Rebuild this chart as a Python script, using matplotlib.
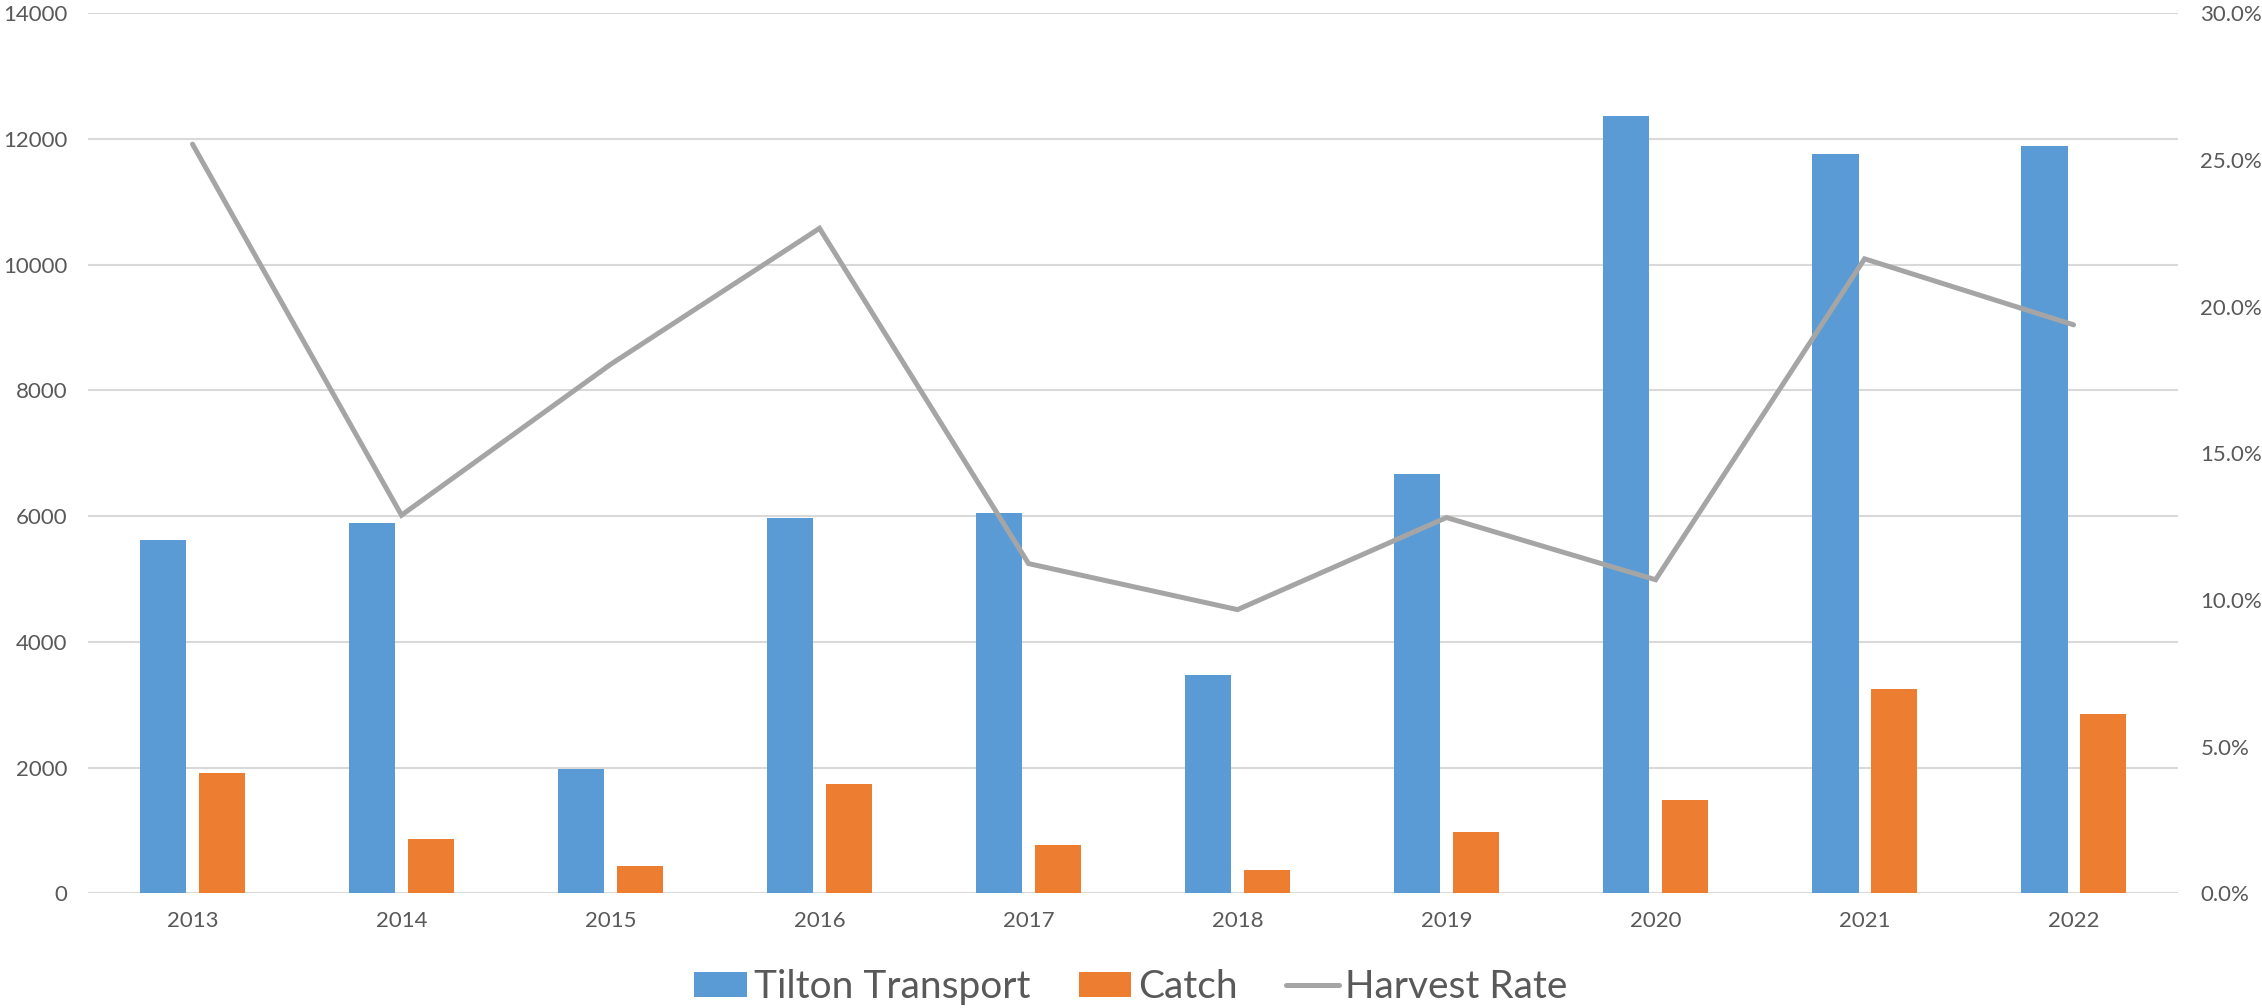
import numpy as np
import matplotlib
matplotlib.use("Agg")
import matplotlib.pyplot as plt
from matplotlib.ticker import FuncFormatter

plt.rcParams['font.family'] = ['Lato', 'DejaVu Sans']

years = ['2013', '2014', '2015', '2016', '2017', '2018', '2019', '2020', '2021', '2022']
tilton_transport = [5620, 5890, 1985, 5970, 6055, 3468, 6666, 12360, 11768, 11887]
catch = [1918, 870, 430, 1745, 765, 366, 970, 1478, 3245, 2857]
harvest_rate = [0.2554, 0.1289, 0.1803, 0.2267, 0.1124, 0.0967, 0.1281, 0.1069, 0.2163, 0.1938]

blue = '#5B9BD5'
orange = '#ED7D31'
gray = '#A5A5A5'
text_col = '#595959'
grid_col = '#D9D9D9'

fig = plt.figure(figsize=(22.62, 10.08), dpi=100)
ax = fig.add_axes([0.0389, 0.1138, 0.924, 0.873])
ax2 = ax.twinx()

x = np.arange(len(years))
w = 0.224
off = 0.141
b1 = ax.bar(x - off, tilton_transport, w, color=blue, label='Tilton Transport', zorder=2)
b2 = ax.bar(x + off, catch, w, color=orange, label='Catch', zorder=2)
ln, = ax2.plot(x, harvest_rate, color=gray, lw=3.6, solid_capstyle='round',
               solid_joinstyle='miter', label='Harvest Rate', zorder=3)

ax.set_xlim(-0.5, len(years) - 0.5)
ax.set_ylim(0, 14000)
ax.set_yticks(np.arange(0, 14001, 2000))
ax2.set_ylim(0, 0.30)
ax2.set_yticks(np.arange(0, 0.3001, 0.05))
ax2.yaxis.set_major_formatter(FuncFormatter(lambda v, p: f'{v * 100:.1f}%'))

ax.set_xticks(x)
ax.set_xticklabels(years)

ax.yaxis.grid(True, color=grid_col, lw=1.5, zorder=0)
ax.set_axisbelow(True)

for a in (ax, ax2):
    for s in a.spines.values():
        s.set_visible(False)
    a.tick_params(length=0, colors=text_col, labelsize=16)
ax.tick_params(axis='y', pad=15)
ax.tick_params(axis='x', pad=13)
ax2.tick_params(axis='y', pad=16)

fig.legend([b1, b2, ln], ['Tilton Transport', 'Catch', 'Harvest Rate'],
           loc='lower center', bbox_to_anchor=(0.5, -0.032), ncol=3, frameon=False,
           fontsize=28, labelcolor=text_col, handlelength=1.35, handleheight=0.62,
           handletextpad=0.17, columnspacing=1.25)

fig.savefig('out.png', dpi=100, facecolor='white')
